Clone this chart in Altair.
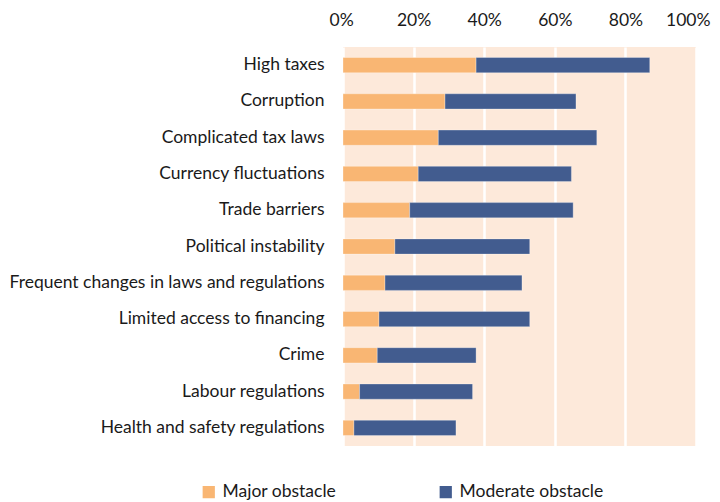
import altair as alt
import pandas as pd

categories = [
    "High taxes",
    "Corruption",
    "Complicated tax laws",
    "Currency fluctuations",
    "Trade barriers",
    "Political instability",
    "Frequent changes in laws and regulations",
    "Limited access to financing",
    "Crime",
    "Labour regulations",
    "Health and safety regulations",
]
major = [37.7, 28.9, 27.0, 21.3, 18.9, 14.7, 11.9, 10.2, 9.7, 4.7, 3.1]
moderate = [49.2, 37.1, 44.9, 43.4, 46.3, 38.2, 38.8, 42.7, 28.0, 32.0, 28.9]
series = ["Major obstacle", "Moderate obstacle"]
colors = ["#F9B673", "#425C8F"]

rows = []
for c, a, b in zip(categories, major, moderate):
    rows.append({"cat": c, "series": series[0], "value": a / 100, "ord": 0})
    rows.append({"cat": c, "series": series[1], "value": b / 100, "ord": 1})
df = pd.DataFrame(rows)

FONT = "Lato"
FS = 17.5

chart = alt.Chart(df).mark_bar(
    stroke="#ffffff", strokeWidth=0.6, strokeOpacity=0.5
).encode(
    y=alt.Y("cat:N", sort=categories, title=None,
            scale=alt.Scale(paddingInner=0.58, paddingOuter=0.29),
            axis=alt.Axis(ticks=False, domain=False, labelPadding=19,
                          labelFontSize=FS, labelFont=FONT, labelColor="#1a1a1a",
                          labelLimit=400)),
    x=alt.X("value:Q", stack="zero", title=None,
            scale=alt.Scale(domain=[0, 1], nice=False),
            axis=alt.Axis(orient="top", format=".0%", values=[0, 0.2, 0.4, 0.6, 0.8, 1.0],
                          ticks=False, domain=False, labelPadding=18,
                          labelFlush=True, labelFlushOffset=14,
                          labelFontSize=FS, labelFont=FONT, labelColor="#1a1a1a",
                          grid=True, gridColor="#ffffff", gridWidth=2.5)),
    color=alt.Color("series:N", scale=alt.Scale(domain=series, range=colors),
                    legend=alt.Legend(title=None, orient="none", legendX=-143, legendY=436,
                                      direction="horizontal", columns=2, columnPadding=100,
                                      symbolType="square", symbolSize=150, symbolStrokeWidth=0,
                                      labelFontSize=FS, labelFont=FONT, labelColor="#1a1a1a",
                                      symbolOffset=0, labelOffset=5)),
    order=alt.Order("ord:Q"),
).properties(
    width=353,
    height=399,
    autosize=alt.AutoSizeParams(type="none"),
    padding={"left": 335, "top": 39, "right": 16, "bottom": 56},
).configure_view(
    fill="#FDE9DA", stroke=None
)

chart.save("out.html", embed_options={"renderer": "svg", "actions": False})
